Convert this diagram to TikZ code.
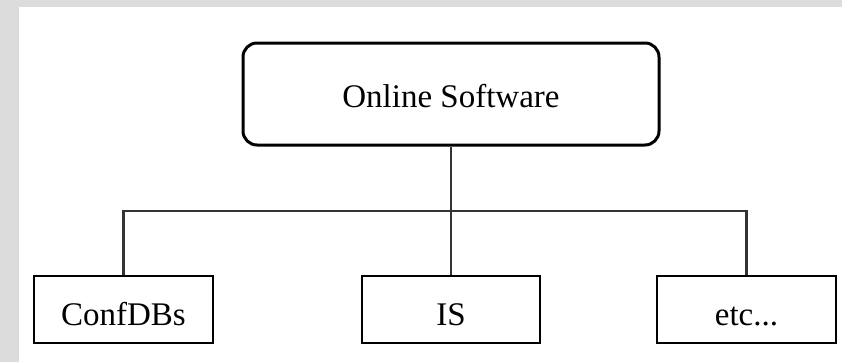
\documentclass[tikz,border=0pt]{standalone}
\usepackage{fontspec}
\setmainfont{Liberation Serif}
\definecolor{framegray}{HTML}{DCDCDC}
\definecolor{linkgray}{HTML}{333333}
\tikzset{
  topbox/.style={draw=black, line width=3pt, rounded corners=14pt, fill=white,
    minimum width=416pt, minimum height=102pt, inner sep=0pt,
    text height=26pt, text depth=0pt,
    font=\fontsize{33}{40}\selectfont},
  leafbox/.style={draw=black, line width=2pt, fill=white,
    minimum width=179pt, minimum height=67pt, inner sep=0pt,
    text height=32pt, text depth=0pt,
    font=\fontsize{33}{40}\selectfont},
  link/.style={draw=linkgray, line width=2.2pt}
}
\begin{document}
\begin{tikzpicture}[x=1pt, y=-1pt]
  % page frame: grey strip on the top and left, white drawing area
  \fill[framegray] (0,0) rectangle (842,362);
  \fill[white] (19,7) rectangle (842,362);
  \useasboundingbox (0,0) rectangle (842,362);

  % hierarchy boxes
  \node[topbox] (top) at (451,94) {Online Software};
  \node[leafbox] (conf) at (123.5,309.5) {ConfDBs};
  \node[leafbox, minimum width=178pt] (is) at (451,309.5) {IS};
  \node[leafbox] (etc) at (746.5,309.5) {etc...};

  % tree connectors through a common horizontal bus
  \coordinate (bus) at (451,211);
  \draw[link] (top.south) -- (is.north);
  \draw[link] (conf.north) -- (conf.north |- bus) -- (etc.north |- bus) -- (etc.north);
\end{tikzpicture}
\end{document}
